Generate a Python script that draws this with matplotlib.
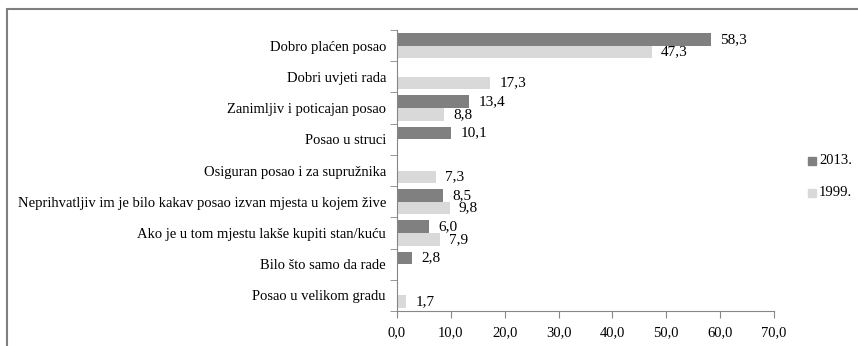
import numpy as np
import matplotlib
matplotlib.use("Agg")
import matplotlib.pyplot as plt
from matplotlib.patches import Rectangle

plt.rcParams['font.family'] = ['Liberation Serif', 'DejaVu Serif']

categories = [
    "Dobro plaćen posao",
    "Dobri uvjeti rada",
    "Zanimljiv i poticajan posao",
    "Posao u struci",
    "Osiguran posao i za supružnika",
    "Neprihvatljiv im je bilo kakav posao izvan mjesta u kojem žive",
    "Ako je u tom mjestu lakše kupiti stan/kuću",
    "Bilo što samo da rade",
    "Posao u velikom gradu",
]
values_2013 = [58.3, np.nan, 13.4, 10.1, np.nan, 8.5, 6.0, 2.8, np.nan]
values_1999 = [47.3, 17.3, 8.8, np.nan, 7.3, 9.8, 7.9, np.nan, 1.7]
series_labels = ["2013.", "1999."]
x_ticks = [0, 10, 20, 30, 40, 50, 60, 70]

c2013 = "#808080"
c1999 = "#d9d9d9"
axis_col = "#868686"
fs = 10.5

fig = plt.figure(figsize=(8.58, 3.46), dpi=100)
ax = fig.add_axes([397 / 858, 35 / 346, 377 / 858, 281 / 346])

n = len(categories)
pos = np.arange(n)
h = 0.405

def fmt(v):
    return f"{v:.1f}".replace(".", ",")

for vals, off, col in [(values_2013, -h / 2, c2013), (values_1999, h / 2, c1999)]:
    v = np.array(vals, dtype=float)
    mask = ~np.isnan(v)
    ax.barh(pos[mask] + off, v[mask], height=h, color=col, edgecolor="none")
    for y, val in zip(pos[mask] + off, v[mask]):
        ax.text(val + 1.7, y, fmt(val), va="center", ha="left", fontsize=fs + 0.5, color="#000000")

ax.set_xlim(0, 70)
ax.set_ylim(n - 0.5, -0.5)
ax.set_xticks(x_ticks)
ax.set_xticklabels([fmt(t) for t in x_ticks], fontsize=fs)
ax.set_yticks(pos)
ax.set_yticklabels(categories, fontsize=fs)
ax.set_yticks(np.arange(n + 1) - 0.5, minor=True)
ax.tick_params(axis="y", which="major", length=0, pad=8)
ax.tick_params(axis="y", which="minor", length=5, color=axis_col, direction="out")
ax.tick_params(axis="x", which="major", length=5, color=axis_col, direction="out", pad=6)

for s in ["top", "right"]:
    ax.spines[s].set_visible(False)
for s in ["left", "bottom"]:
    ax.spines[s].set_color(axis_col)
    ax.spines[s].set_linewidth(0.8)

# legend entries
for i, (lab, col) in enumerate(zip(series_labels, [c2013, c1999])):
    yy = 1 - (161 + i * 32) / 346
    fig.patches.append(Rectangle((808 / 858, yy - 4 / 346), 8 / 858, 8 / 346,
                                 transform=fig.transFigure, color=col))
    fig.text(819 / 858, yy, lab, va="center", ha="left", fontsize=fs)

# chart-area border
fig.patches.append(Rectangle((7 / 858, -0.1), 1.1, 1 - 9 / 346 + 0.1,
                             transform=fig.transFigure, fill=False,
                             edgecolor="#7f7f7f", linewidth=1.5))

fig.savefig("out.png", dpi=100)
